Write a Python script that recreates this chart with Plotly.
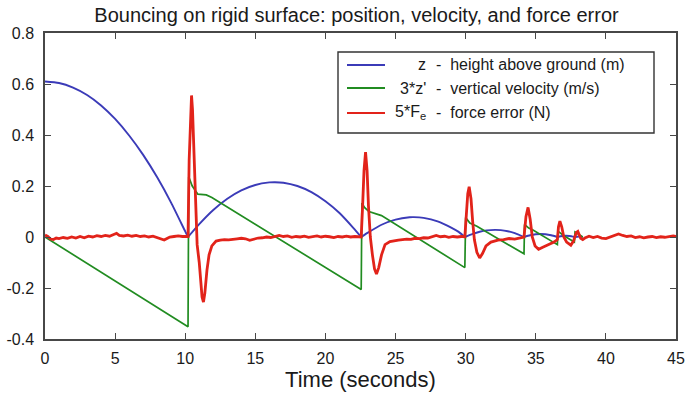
import plotly.graph_objects as go

FONT = "Arial, 'Liberation Sans', Helvetica, sans-serif"
TEXT = "#1a1a1a"
AXIS = "#474747"

# z: height above ground (m); one arc per bounce, separated by None
z_time = [0, 1, 2, 3, 4, 5, 6, 7, 8, 9, 10, 10.2, None,
          10.2, 11, 12, 13, 14, 15, 16, 16.4, 17, 18, 19, 20, 21, 22, 22.55, None,
          22.55, 23, 24, 25, 26, 26.3, 27, 28, 29, 29.5, 29.94, None,
          29.94, 30.5, 31, 31.5, 32.1, 32.5, 33, 33.5, 34.16, None,
          34.16, 34.6, 35.0, 35.35, 35.7, 36.1, 36.54, None,
          36.54, 36.9, 37.15, 37.4, 37.78, None,
          37.78, 38.05, 38.35]
z_height = [0.61, 0.604, 0.586, 0.557, 0.516, 0.463, 0.398, 0.322, 0.234, 0.134, 0.022, 0.0, None,
            0.0, 0.0505, 0.106, 0.150, 0.183, 0.204, 0.214, 0.215, 0.213, 0.200, 0.176, 0.140, 0.094, 0.035, 0.0, None,
            0.0, 0.016, 0.048, 0.068, 0.0775, 0.078, 0.075, 0.0615, 0.036, 0.020, 0.0, None,
            0.0, 0.012, 0.0205, 0.026, 0.028, 0.027, 0.0225, 0.015, 0.0, None,
            0.0, 0.007, 0.011, 0.012, 0.011, 0.007, 0.0, None,
            0.0, 0.004, 0.005, 0.004, 0.0, None,
            0.0, 0.002, 0.0]

# 3*z': scaled vertical velocity (m/s)
v_time = [0, 10.2, 10.25, 10.5, 10.9, 11.5, 11.9, 22.55, 22.6, 22.8, 23.1, 23.6, 24.0,
          29.94, 30.0, 30.3, 30.8, 34.16, 34.2, 34.5, 34.8, 36.54, 36.58, 37.0,
          37.75, 37.8, 38.35]
v_vel = [0, -0.352, 0.236, 0.20, 0.168, 0.165, 0.155, -0.206, 0.133, 0.115, 0.10, 0.092, 0.084,
         -0.12, 0.076, 0.055, 0.042, -0.066, 0.049, 0.035, 0.027, -0.03, 0.023, 0.005,
         -0.02, 0.02, 0.0]

# 5*Fe: scaled force error (N)
f_time = [0.0, 0.2, 0.4, 0.6, 0.8, 1.0, 1.3, 1.6, 1.9, 2.2, 2.5, 2.8, 3.1, 3.4, 3.7, 4.0,
          4.3, 4.6, 4.9, 5.1, 5.3, 5.6, 5.9, 6.2, 6.5, 6.8, 7.1, 7.4, 7.7, 8.0, 8.3, 8.5,
          8.7, 8.9, 9.2, 9.5, 9.8, 10.1, 10.2,
          10.28, 10.38, 10.45, 10.52, 10.64, 10.75, 10.85, 11.0, 11.1, 11.2, 11.3, 11.4,
          11.55, 11.7, 11.9,
          12.2, 12.5, 12.8, 13.1, 13.4, 13.7, 14.0, 14.3, 14.6, 14.9, 15.2, 15.5, 15.8,
          16.1, 16.4, 16.7, 17.0, 17.3, 17.6, 17.9, 18.2, 18.5, 18.8, 19.1, 19.4, 19.7,
          20.0, 20.3, 20.6, 20.9, 21.2, 21.5, 21.8, 22.1, 22.4, 22.55,
          22.65, 22.75, 22.86, 22.97, 23.07, 23.2, 23.35, 23.5, 23.64, 23.8, 24.0, 24.25,
          24.6, 24.9, 25.2, 25.5, 25.8, 26.1, 26.4, 26.7, 27.0, 27.3, 27.6, 27.9, 28.2,
          28.5, 28.8, 29.1, 29.4, 29.7, 29.94,
          30.05, 30.15, 30.25, 30.38, 30.5, 30.62, 30.8, 31.0, 31.2, 31.45, 31.8, 32.3,
          32.7, 33.1, 33.5, 33.9, 34.16,
          34.3, 34.45, 34.6, 34.75, 34.95, 35.2, 35.5, 35.9, 36.3, 36.54,
          36.62, 36.72, 36.85, 37.0, 37.2, 37.5, 37.7, 37.78,
          37.9, 38.0, 38.1, 38.2, 38.35,
          38.5, 38.8, 39.1, 39.4, 39.7, 40.0, 40.3, 40.6, 40.9, 41.2, 41.5, 41.8, 42.1,
          42.4, 42.7, 43.0, 43.3, 43.6, 43.9, 44.2, 44.5, 44.8, 45.0]
f_err = [0.008, 0.002, -0.008, -0.010, -0.004, -0.006, -0.002, -0.005, 0.000, -0.004, 0.002,
         -0.003, 0.003, 0.000, 0.005, 0.002, 0.006, 0.003, 0.010, 0.014, 0.006, 0.004, 0.007,
         0.003, 0.006, 0.002, 0.004, 0.000, 0.003, -0.002, -0.006, -0.012, -0.006, 0.000,
         0.002, 0.004, 0.002, 0.003, 0.002,
         0.30, 0.50, 0.555, 0.50, 0.30, 0.08, -0.03, -0.10, -0.17, -0.235, -0.255, -0.22,
         -0.13, -0.07, -0.035,
         -0.016, -0.012, -0.010, -0.011, -0.008, -0.007, -0.005, -0.007, -0.013, -0.007,
         -0.004, -0.003, 0.000, -0.002, 0.003, 0.006, 0.002, 0.004, -0.001, 0.002, 0.000,
         0.003, -0.001, 0.002, 0.004, 0.000, 0.003, 0.001, -0.002, 0.002, 0.000, 0.003,
         0.000, 0.002, 0.001, 0.0,
         0.12, 0.26, 0.333, 0.26, 0.12, 0.0, -0.07, -0.125, -0.145, -0.12, -0.07, -0.03,
         -0.018, -0.014, -0.012, -0.010, -0.008, -0.009, -0.005, -0.006, -0.003, -0.004,
         0.002, 0.006, 0.001, 0.003, -0.001, 0.002, 0.000, 0.002, 0.0,
         0.08, 0.17, 0.197, 0.15, 0.06, -0.01, -0.06, -0.082, -0.065, -0.035, -0.02, -0.012,
         -0.010, -0.006, -0.008, -0.004, 0.0,
         0.08, 0.116, 0.07, 0.0, -0.035, -0.048, -0.04, -0.03, -0.02, -0.01,
         0.04, 0.062, 0.04, 0.0, -0.02, -0.032, -0.015, 0.0,
         0.018, 0.022, 0.01, -0.005, -0.01,
         -0.004, 0.003, -0.002, 0.002, -0.004, -0.006, 0.000, 0.008, 0.012, 0.006, 0.002,
         0.004, -0.002, 0.001, -0.003, 0.000, 0.002, -0.002, 0.001, -0.001, 0.003, 0.004,
         0.002]

x_ticks = [0, 5, 10, 15, 20, 25, 30, 35, 40, 45]
y_ticks = [-0.4, -0.2, 0, 0.2, 0.4, 0.6, 0.8]
y_tick_text = ["-0.4", "-0.2", "0", "0.2", "0.4", "0.6", "0.8"]

series = [
    ("z", "height above ground (m)", "#3b3bb8", 1.9),
    ("3*z'", "vertical velocity (m/s)", "#218c21", 1.7),
    ("5*F<sub>e</sub>", "force error (N)", "#e2231a", 2.8),
]

W, H = 687, 395
ML, MR, MT, MB = 45, 11, 33, 56
PW, PH = W - ML - MR, H - MT - MB


def px(x):
    return (x - ML) / PW


def py(y):
    return (H - MB - y) / PH


fig = go.Figure()
fig.add_trace(go.Scatter(x=z_time, y=z_height, mode="lines", name=series[0][0],
                         line=dict(color=series[0][2], width=series[0][3], shape="spline", smoothing=0.6),
                         connectgaps=False))
fig.add_trace(go.Scatter(x=v_time, y=v_vel, mode="lines", name=series[1][0],
                         line=dict(color=series[1][2], width=series[1][3])))
fig.add_trace(go.Scatter(x=f_time, y=f_err, mode="lines", name=series[2][0],
                         line=dict(color=series[2][2], width=series[2][3])))

# legend box drawn by hand so the symbol column lines up on the right
shapes = [dict(type="rect", xref="paper", yref="paper",
               x0=px(338), x1=px(654), y0=py(133), y1=py(52),
               line=dict(color="#333333", width=1.4), fillcolor="white", layer="above")]
annotations = []
rows_y = [65, 88, 113]
for (sym, desc, color, _), ry in zip(series, rows_y):
    shapes.append(dict(type="line", xref="paper", yref="paper",
                       x0=px(347), x1=px(385), y0=py(ry), y1=py(ry),
                       line=dict(color=color, width=2), layer="above"))
    annotations.append(dict(xref="paper", yref="paper", x=px(427), y=py(ry),
                            xanchor="right", yanchor="middle", text=sym, showarrow=False,
                            borderpad=0, font=dict(family=FONT, size=16, color=TEXT)))
    annotations.append(dict(xref="paper", yref="paper", x=px(435), y=py(ry),
                            xanchor="left", yanchor="middle",
                            text="-\u00a0\u00a0" + desc, showarrow=False,
                            borderpad=0, font=dict(family=FONT, size=16, color=TEXT)))

axis_common = dict(showgrid=False, zeroline=False, showline=True, linecolor=AXIS,
                   linewidth=1.5, mirror="ticks", ticks="inside", ticklen=6,
                   tickcolor=AXIS, tickwidth=1.2, automargin=False,
                   tickfont=dict(family=FONT, size=16, color=TEXT))

fig.update_layout(
    width=W, height=H,
    margin=dict(l=ML, r=MR, t=MT, b=MB),
    paper_bgcolor="white", plot_bgcolor="white",
    showlegend=False,
    title=dict(text="Bouncing on rigid surface: position, velocity, and force error",
               x=0.519, xref="container", y=1 - 15 / H, yref="container",
               xanchor="center", yanchor="middle",
               font=dict(family=FONT, size=20, color=TEXT)),
    xaxis=dict(range=[0, 45], tickvals=x_ticks, ticklabelstandoff=4,
               title=dict(text="Time (seconds)", standoff=5,
                          font=dict(family=FONT, size=22, color=TEXT)),
               **axis_common),
    yaxis=dict(range=[-0.4, 0.8], tickvals=y_ticks, ticktext=y_tick_text,
               ticklabelstandoff=6, **axis_common),
    shapes=shapes,
    annotations=annotations,
)

fig.write_html("out.html")
